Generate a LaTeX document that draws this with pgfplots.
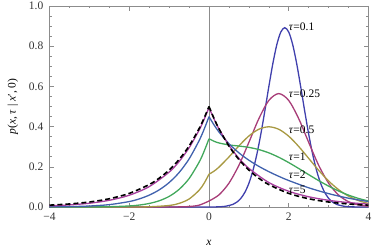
\documentclass[border=0pt]{standalone}
\usepackage{pgfplots}
\pgfplotsset{compat=1.18}
\usetikzlibrary{calc}
\usepackage{fontspec}
\setmainfont{Liberation Serif}
\newcommand\fs{\fontsize{11.5}{13}\selectfont}
\definecolor{cA}{rgb}{0.25,0.25,0.68}
\definecolor{cB}{rgb}{0.66,0.24,0.47}
\definecolor{cC}{rgb}{0.66,0.60,0.26}
\definecolor{cD}{rgb}{0.26,0.66,0.36}
\definecolor{cE}{rgb}{0.25,0.38,0.68}
\definecolor{cF}{rgb}{0.66,0.24,0.62}
\definecolor{frm}{gray}{0.55}
\begin{document}
\begin{tikzpicture}
\begin{axis}[
  name=ax,
  width=319pt, height=201pt, scale only axis,
  xmin=-4, xmax=4, ymin=0, ymax=1,
  axis line style={frm, line width=0.8pt},
  every tick/.style={frm, line width=0.6pt},
  major tick length=4.5pt, minor tick length=2.5pt,
  tick align=inside,
  xtick={-4,-2,0,2,4}, xticklabels={−4,−2,0,2,4},
  ytick={0,0.2,0.4,0.6,0.8,1.0}, yticklabels={0.0,0.2,0.4,0.6,0.8,1.0},
  minor x tick num=3, minor y tick num=3,
  ticklabel style={font=\fs, text=black!80},
  yticklabel style={xshift=-2.7pt},
  xticklabel style={yshift=-2pt},
  every axis x label/.style={at={(axis description cs:0.5,0)}, yshift=-36pt, anchor=center, font=\fs},
  every axis y label/.style={at={(axis description cs:0,0.5)}, xshift=-36.5pt, rotate=90, anchor=center, font=\fs},
  xlabel={\textit{x}},
  ylabel={\textit{p}(\textit{x}, \textit{τ} | \textit{x}′, 0)},
  clip=true,
]
\addplot[frm, line width=0.6pt] coordinates {(0,0) (0,1)};
% tau = 0.1
\addplot[cA, line width=1.3pt, smooth] coordinates {
(-4,0) (-1,0) (0,0) (0.2,0.0007) (0.4,0.0032) (0.6,0.0131) (0.7,0.0244) (0.8,0.0433) (0.9,0.0732) (1.0,0.1177) (1.1,0.1801) (1.2,0.2621) (1.3,0.3627) (1.4,0.4775) (1.5,0.5980) (1.6,0.7123) (1.7,0.8072) (1.8,0.8701) (1.9,0.8921) (2.0,0.8701) (2.1,0.8072) (2.2,0.7123) (2.3,0.5980) (2.4,0.4775) (2.5,0.3627) (2.6,0.2621) (2.7,0.1801) (2.8,0.1177) (2.9,0.0732) (3.0,0.0433) (3.1,0.0244) (3.2,0.0131) (3.4,0.0032) (3.6,0.0007) (3.8,0.0001) (4,0)};
% tau = 0.25
\addplot[cB, line width=1.3pt, smooth] coordinates {
(-4,0) (-2,0) (-1,0.0001) (-0.75,0.0006) (-0.5,0.0024) (-0.25,0.0090) (0,0.0297)};
\addplot[cB, line width=1.3pt, smooth] coordinates {
(0,0.0297) (0.25,0.0604) (0.5,0.1185) (0.75,0.2076) (1.0,0.3215) (1.25,0.4394) (1.5,0.5300) (1.75,0.5642) (2.0,0.5300) (2.25,0.4394) (2.5,0.3215) (2.75,0.2076) (3.0,0.1183) (3.25,0.0595) (3.5,0.0264) (3.75,0.0103) (4.0,0.0036)};
% tau = 0.5
\addplot[cC, line width=1.3pt, smooth] coordinates {
(-4,0) (-2.5,0) (-2,0.0001) (-1.5,0.0011) (-1,0.0076) (-0.75,0.0179) (-0.5,0.0397) (-0.25,0.0829) (-0.125,0.1172) (0,0.1631)};
\addplot[cC, line width=1.3pt, smooth] coordinates {
(0,0.1631) (0.125,0.1782) (0.25,0.1983) (0.5,0.2489) (0.75,0.3040) (1.0,0.3532) (1.25,0.3870) (1.5,0.3991) (1.75,0.3867) (2.0,0.3521) (2.25,0.3011) (2.5,0.2420) (2.75,0.1826) (3.0,0.1295) (3.25,0.0863) (3.5,0.0540) (3.75,0.0317) (4.0,0.0175)};
% tau = 1
\addplot[cD, line width=1.3pt, smooth] coordinates {
(-4,0) (-3,0.0003) (-2.5,0.0014) (-2,0.0052) (-1.75,0.0097) (-1.5,0.0176) (-1.25,0.0309) (-1,0.0527) (-0.75,0.0876) (-0.5,0.1413) (-0.25,0.2222) (-0.125,0.2758) (0,0.3396)};
\addplot[cD, line width=1.3pt, smooth] coordinates {
(0,0.3396) (0.125,0.3273) (0.25,0.3186) (0.5,0.3088) (0.75,0.3033) (1.0,0.2966) (1.25,0.2857) (1.5,0.2694) (1.75,0.2474) (2.0,0.2209) (2.25,0.1915) (2.5,0.1610) (2.75,0.1313) (3.0,0.1039) (3.25,0.0796) (3.5,0.0591) (3.75,0.0426) (4.0,0.0297)};
% tau = 2
\addplot[cE, line width=1.3pt, smooth] coordinates {
(-4,0.0007) (-3.5,0.0019) (-3,0.0049) (-2.5,0.0118) (-2,0.0271) (-1.75,0.0402) (-1.5,0.0589) (-1.25,0.0851) (-1,0.1216) (-0.75,0.1714) (-0.5,0.2389) (-0.25,0.3294) (-0.125,0.3853) (0,0.4495)};
\addplot[cE, line width=1.3pt, smooth] coordinates {
(0,0.4495) (0.125,0.4087) (0.25,0.3732) (0.5,0.3150) (0.75,0.2695) (1.0,0.2328) (1.25,0.2022) (1.5,0.1759) (1.75,0.1526) (2.0,0.1317) (2.5,0.0956) (3.0,0.0665) (3.5,0.0437) (4.0,0.0272)};
% tau = 5
\addplot[cF, line width=1.3pt, smooth] coordinates {
(-4,0.0056) (-3.5,0.0104) (-3,0.0187) (-2.5,0.0333) (-2,0.0585) (-1.5,0.1013) (-1,0.1735) (-0.75,0.2262) (-0.5,0.2942) (-0.25,0.3818) (-0.125,0.4347) (0,0.4947)};
\addplot[cF, line width=1.3pt, smooth] coordinates {
(0,0.4947) (0.125,0.4385) (0.25,0.3889) (0.5,0.3066) (0.75,0.2424) (1.0,0.1922) (1.5,0.1219) (2.0,0.0783) (2.5,0.0509) (3.0,0.0333) (3.5,0.0219) (4.0,0.0143)};
% stationary
\addplot[black, line width=1.6pt, dash pattern=on 5pt off 3pt, smooth] coordinates {
(-4,0.0092) (-3.5,0.0151) (-3,0.0249) (-2.5,0.0410) (-2,0.0677) (-1.5,0.1116) (-1.25,0.1433) (-1,0.1839) (-0.75,0.2362) (-0.5,0.3033) (-0.25,0.3894) (-0.125,0.4412) (0,0.5)};
\addplot[black, line width=1.6pt, dash pattern=on 5pt off 3pt, smooth] coordinates {
(0,0.5) (0.125,0.4412) (0.25,0.3894) (0.5,0.3033) (0.75,0.2362) (1,0.1839) (1.25,0.1433) (1.5,0.1116) (2,0.0677) (2.5,0.0410) (3,0.0249) (3.5,0.0151) (4,0.0092)};
\node[anchor=west, font=\fs, inner sep=0pt] at (axis cs:2.0,0.897) {\textit{τ}=0.1};
\node[anchor=west, font=\fs, inner sep=0pt] at (axis cs:2.0,0.561) {\textit{τ}=0.25};
\node[anchor=west, font=\fs, inner sep=0pt] at (axis cs:2.0,0.385) {\textit{τ}=0.5};
\node[anchor=west, font=\fs, inner sep=0pt] at (axis cs:2.0,0.25) {\textit{τ}=1};
\node[anchor=west, font=\fs, inner sep=0pt] at (axis cs:2.0,0.159) {\textit{τ}=2};
\node[anchor=west, font=\fs, inner sep=0pt] at (axis cs:2.0,0.088) {\textit{τ}=5};
\end{axis}
\pgfresetboundingbox
\path[use as bounding box] ($(ax.south west)+(-49.5pt,-42pt)$) rectangle ($(ax.north east)+(5.5pt,6pt)$);
\end{tikzpicture}
\end{document}
